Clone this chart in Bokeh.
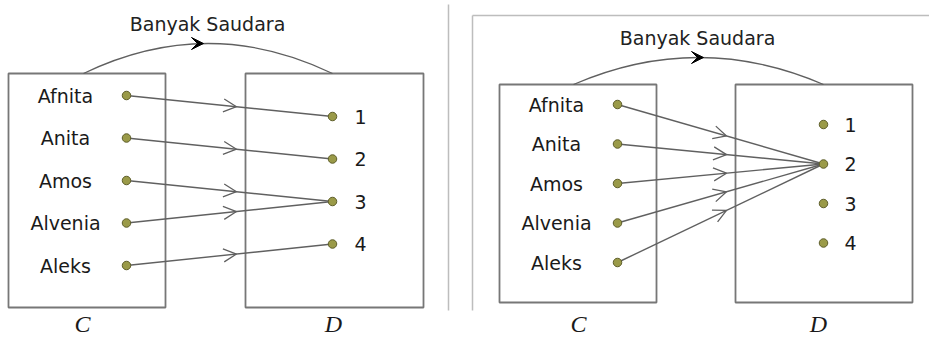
from bokeh.plotting import figure
from bokeh.models import Range1d, Arrow, OpenHead, VeeHead
from bokeh.core.properties import value
from bokeh.embed import file_html
from bokeh.resources import INLINE

# ---- data ----
relation_label = "Banyak Saudara"
set_c_names = ["Afnita", "Anita", "Amos", "Alvenia", "Aleks"]
set_d_values = ["1", "2", "3", "4"]
mapping_left = [1, 2, 3, 3, 4]    # index into set_d_values (1-based)
mapping_right = [2, 2, 2, 2, 2]
set_labels = ["C", "D"]

# ---- layout (screen-like coordinates) ----
panels = [
    dict(mapping=mapping_left,
         boxC=(8, 73, 165, 307), boxD=(245, 73, 423, 307),
         name_x=65, name_y0=95, name_dy=42.5, cdot_x=126,
         ddot_x=332, d_y0=116, d_dy=42.5, num_x=360,
         arc=(83, 332, 73, 43), arc_head_x=203, title=(207, 23),
         lblC=(82, 323), lblD=(333, 323)),
    dict(mapping=mapping_right,
         boxC=(499, 84, 656, 302), boxD=(735, 84, 912, 302),
         name_x=556, name_y0=104, name_dy=39.5, cdot_x=617,
         ddot_x=823, d_y0=124, d_dy=39.5, num_x=850,
         arc=(573, 823, 84, 57), arc_head_x=703, title=(697, 37),
         lblC=(578, 323), lblD=(818, 323)),
]

W, H = 929, 337
p = figure(width=W, height=H, output_backend="svg", toolbar_location=None,
           x_range=Range1d(0, W), y_range=Range1d(H, 0),
           min_border=0, outline_line_color=None, background_fill_color="white")
p.axis.visible = False
p.grid.visible = False

BOX = "#777777"
LINE = "#606060"
FONT = value("DejaVu Sans")

# separator and frame of right panel
p.segment(x0=[448, 472, 472], y0=[4, 15, 15], x1=[448, 472, 929], y1=[310, 310, 15],
          line_color="#bdbdbd", line_width=1.5)

for pn in panels:
    # boxes
    for (x0, y0, x1, y1) in (pn["boxC"], pn["boxD"]):
        p.quad(left=x0, right=x1, top=y0, bottom=y1, fill_color=None,
               line_color=BOX, line_width=1.8)
    # arc
    ax0, ax1, ay, apeak = pn["arc"]
    cy = 2 * apeak - ay
    p.quadratic(x0=ax0, y0=ay, x1=ax1, y1=ay, cx=(ax0 + ax1) / 2, cy=cy,
                line_color=LINE, line_width=1.3)
    hx = pn["arc_head_x"]
    p.add_layout(Arrow(end=VeeHead(size=12, fill_color="black", line_color="black"),
                       x_start=hx - 10, y_start=apeak, x_end=hx, y_end=apeak,
                       line_alpha=0))
    tx, ty = pn["title"]
    p.text(x=[tx], y=[ty], text=[relation_label], text_font=FONT,
           text_font_size="19px", text_color="#222222",
           text_align="center", text_baseline="middle")

    cy_list = [pn["name_y0"] + i * pn["name_dy"] for i in range(len(set_c_names))]
    dy_list = [pn["d_y0"] + i * pn["d_dy"] for i in range(len(set_d_values))]

    # mapping lines and arrowheads
    tip_x = pn["boxD"][0] - 9
    for i, m in enumerate(pn["mapping"]):
        xs, ys = pn["cdot_x"], cy_list[i]
        xe, ye = pn["ddot_x"], dy_list[m - 1]
        p.line([xs, xe], [ys, ye], line_color=LINE, line_width=1.4)
        t = (tip_x - xs) / (xe - xs)
        yt = ys + t * (ye - ys)
        p.add_layout(Arrow(end=OpenHead(size=13, line_color=LINE, line_width=1.3),
                           x_start=xs, y_start=ys, x_end=tip_x, y_end=yt,
                           line_alpha=0))

    # dots
    p.scatter(x=[pn["cdot_x"]] * len(cy_list), y=cy_list, size=8.5,
              fill_color="#9a9a48", line_color="#5e5e2a", line_width=1)
    p.scatter(x=[pn["ddot_x"]] * len(dy_list), y=dy_list, size=8.5,
              fill_color="#9a9a48", line_color="#5e5e2a", line_width=1)

    # labels
    p.text(x=[pn["name_x"]] * len(set_c_names), y=cy_list, text=set_c_names,
           text_font=FONT, text_font_size="19px", text_color="#1a1a1a",
           text_align="center", text_baseline="middle")
    p.text(x=[pn["num_x"]] * len(set_d_values), y=dy_list, text=set_d_values,
           text_font=FONT, text_font_size="19px", text_color="#1a1a1a",
           text_align="center", text_baseline="middle")
    p.text(x=[pn["lblC"][0], pn["lblD"][0]], y=[pn["lblC"][1], pn["lblD"][1]],
           text=set_labels, text_font=value("Liberation Serif"),
           text_font_style="italic", text_font_size="24px", text_color="#1a1a1a",
           text_align="center", text_baseline="middle")

open("out.html", "w").write(file_html(p, INLINE))
